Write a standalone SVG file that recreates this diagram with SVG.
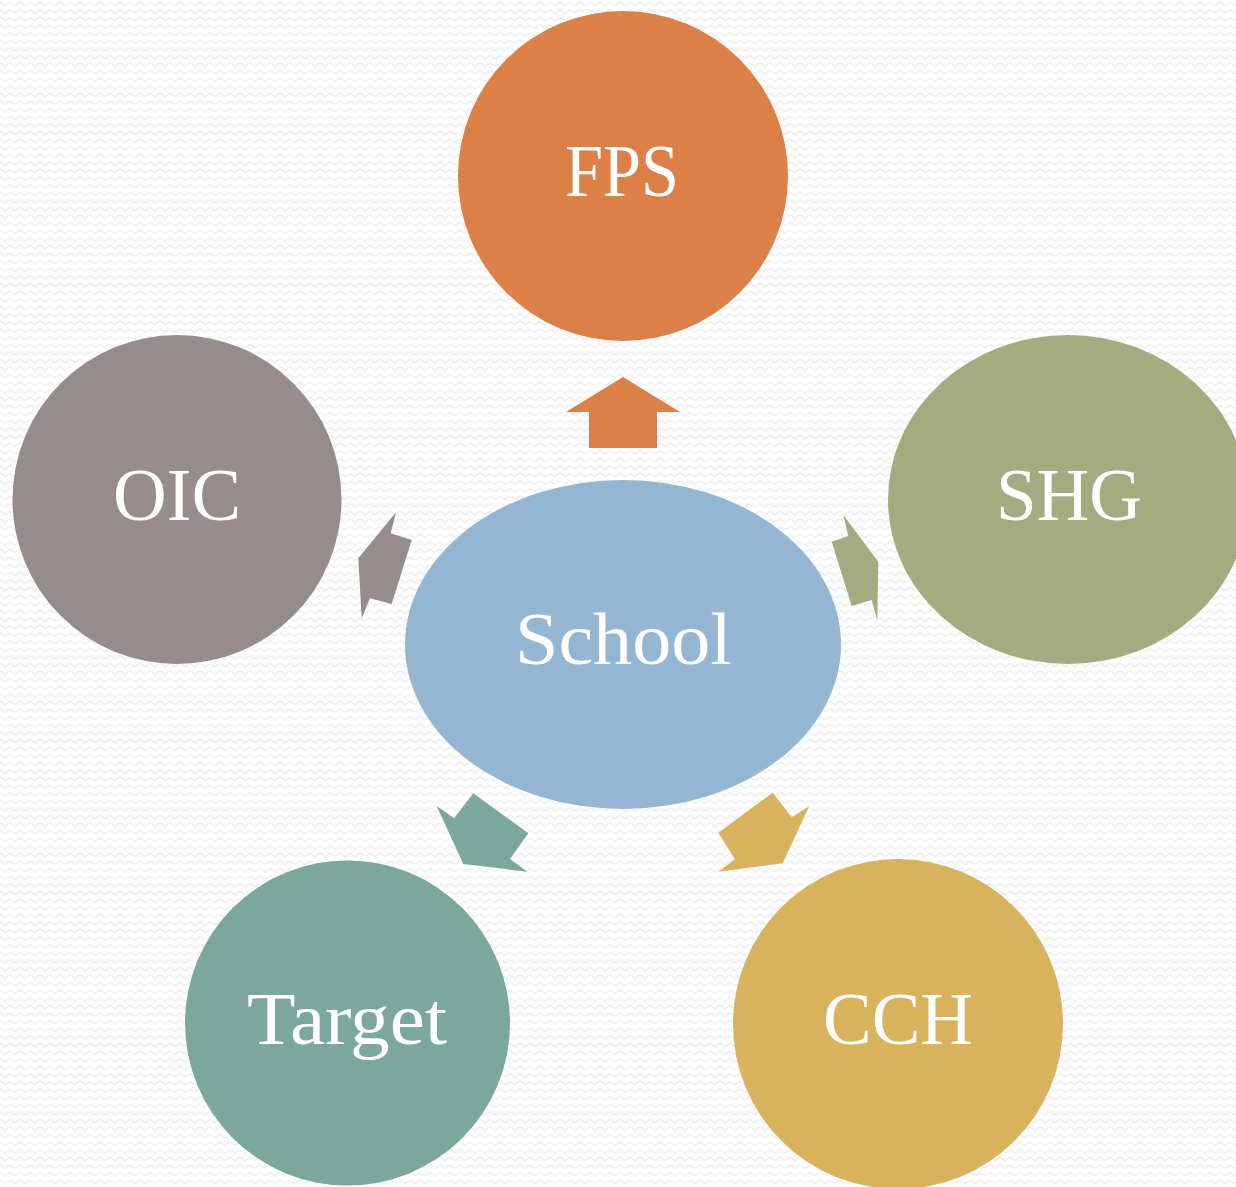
<svg xmlns="http://www.w3.org/2000/svg" width="1236" height="1187" viewBox="0 0 1236 1187">
  <defs>
    <pattern id="zig" width="10" height="7.6" patternUnits="userSpaceOnUse">
      <rect width="10" height="7.6" fill="#ffffff"/>
      <polyline points="0,2 5,5.5 10,2" fill="none" stroke="#efefef" stroke-width="1.6"/>
    </pattern>
  </defs>
  <style>
    .lbl { font-family: "Liberation Serif", "DejaVu Serif", serif; font-size: 74px; fill: #ffffff; text-anchor: middle; }
  </style>
  <rect width="1236" height="1187" fill="url(#zig)"/>

  <g id="connectors">
    <polygon points="623,377 680,412 657,412 657,448 589,448 589,412 566,412" fill="#DD8047"/>
    <polygon points="843.3,515 878.3,561.7 877.3,620.7 871.7,600 851.7,606 831.7,541.7 848.3,536" fill="#A5AB81"/>
    <polygon points="396,512.3 390.7,533.3 411.7,540 391.7,604 370,598.3 361.7,618.3 358.3,558.3" fill="#968C8C"/>
    <polygon points="473.3,793.3 528.3,833.3 510,859 527.3,871.7 463.3,864 436.7,806 454,818.3" fill="#7BA79D"/>
    <polygon points="772.7,792.7 791.7,817.3 809.3,806 782.7,863.3 718.3,871.7 735,859.3 718.3,832.7" fill="#D8B25C"/>
  </g>

  <g id="node-school">
    <ellipse cx="623" cy="644.5" rx="218" ry="164.5" fill="#94B6D2"/>
    <text class="lbl" x="623.5" y="664" textLength="217" lengthAdjust="spacingAndGlyphs">School</text>
  </g>
  <g id="node-fps">
    <circle cx="623" cy="176" r="165" fill="#DD8047"/>
    <text class="lbl" x="622" y="196" textLength="114" lengthAdjust="spacingAndGlyphs">FPS</text>
  </g>
  <g id="node-shg">
    <ellipse cx="1068" cy="499.5" rx="180" ry="164.5" fill="#A5AB81"/>
    <text class="lbl" x="1069" y="520" textLength="146" lengthAdjust="spacingAndGlyphs">SHG</text>
  </g>
  <g id="node-oic">
    <circle cx="177" cy="499.5" r="164.5" fill="#968C8C"/>
    <text class="lbl" x="177" y="520" textLength="128" lengthAdjust="spacingAndGlyphs">OIC</text>
  </g>
  <g id="node-target">
    <circle cx="347.5" cy="1023" r="162.5" fill="#7BA79D"/>
    <text class="lbl" x="347" y="1044" textLength="200" lengthAdjust="spacingAndGlyphs">Target</text>
  </g>
  <g id="node-cch">
    <circle cx="898" cy="1024" r="165" fill="#D8B25C"/>
    <text class="lbl" x="898" y="1044" textLength="150" lengthAdjust="spacingAndGlyphs">CCH</text>
  </g>
</svg>
